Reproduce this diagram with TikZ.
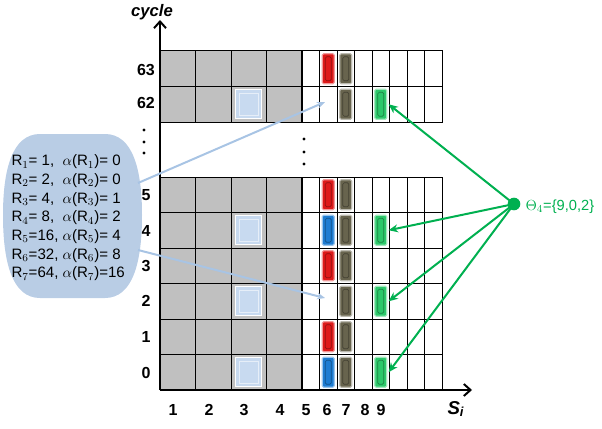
\documentclass[tikz,border=0pt]{standalone}
\usepackage{fontspec}
\setmainfont{Liberation Sans}
\usetikzlibrary{arrows.meta}

\definecolor{cellgray}{RGB}{192,192,192}
\definecolor{blobblue}{RGB}{185,205,229}
\definecolor{callblue}{RGB}{168,196,228}
\definecolor{slotblue}{RGB}{200,218,240}
\definecolor{barred}{RGB}{222,26,26}
\definecolor{barblue}{RGB}{30,124,210}
\definecolor{barbrown}{RGB}{104,100,78}
\definecolor{bargreen}{RGB}{44,200,106}
\definecolor{thetagreen}{RGB}{0,176,80}

\tikzset{every picture/.style={line width=0.75pt}}
\tikzset{
  bar/.style={rectangle, inner sep=0pt, minimum width=9pt, minimum height=22.5pt,
    fill=#1, draw=#1!45!white, line width=0.8pt, rounded corners=1pt,
    path picture={\draw[#1!65!black, line width=0.5pt]
      ([shift={(2.3pt,2.3pt)}]path picture bounding box.south west) rectangle
      ([shift={(-2.3pt,-2.3pt)}]path picture bounding box.north east);}},
  slot/.style={rectangle, inner sep=0pt, minimum width=19.5pt, minimum height=21.75pt,
    fill=slotblue, draw=white, line width=1pt,
    path picture={\draw[white!55!slotblue, line width=0.8pt]
      ([shift={(2.6pt,2.6pt)}]path picture bounding box.south west) rectangle
      ([shift={(-2.6pt,-2.6pt)}]path picture bounding box.north east);}},
  axnum/.style={inner sep=0pt, font=\fontsize{12}{12}\selectfont\bfseries},
  vdot/.style={circle, fill=black, inner sep=0pt, minimum size=2.6pt},
  axis/.style={line width=1.5pt, -{Straight Barb[length=5pt, width=9pt]}},
  garrow/.style={thetagreen, line width=1.5pt, -{Stealth[length=7pt, width=6pt]}},
  carrow/.style={callblue, line width=1.5pt, -{Stealth[length=6pt, width=5pt]}}
}

\begin{document}
\begin{tikzpicture}[x=0.75pt,y=0.75pt,yscale=-1,xscale=1]
\useasboundingbox (0,0) rectangle (602,428);

% gray part of both blocks
\fill[cellgray] (160,51) rectangle (302,122);
\fill[cellgray] (160,177) rectangle (302,390);

% grid: vertical lines
\foreach \x in {195.5,231,266.5} {
  \draw (\x,51) -- (\x,122);
  \draw (\x,177) -- (\x,390);
}
\foreach \x in {319.5,337,354.5,372,389.5,407,424.5} {
  \draw[line width=0.6pt] (\x,51) -- (\x,122);
  \draw[line width=0.6pt] (\x,177) -- (\x,390);
}
% grid: horizontal lines
\foreach \y in {86.5} \draw (160,\y) -- (442,\y);
\foreach \y in {212.5,248,283.5,319,354.5} \draw (160,\y) -- (442,\y);
% block borders
\draw (160,51) rectangle (442,122);
\draw (160,177) rectangle (442,390);
\draw[line width=1.3pt] (302,51) -- (302,122);
\draw[line width=1.3pt] (302,177) -- (302,390);

% slots in column 3
\foreach \n/\y in {62/104.25, 4/230.25, 2/301.25, 0/372.25}
  \node[slot] (slot\n) at (248.75,\y) {};

% red bars
\foreach \n/\y in {63/68.75, 5/194.75, 3/265.75, 1/336.75}
  \node[bar=barred] (red\n) at (328.25,\y) {};
% blue bars
\foreach \n/\y in {4/230.25, 0/372.25}
  \node[bar=barblue] (blu\n) at (328.25,\y) {};
% brown bars
\foreach \n/\y in {63/68.75, 62/104.25, 5/194.75, 4/230.25, 3/265.75, 2/301.25, 1/336.75, 0/372.25}
  \node[bar=barbrown] (brn\n) at (345.75,\y) {};
% green bars
\foreach \n/\y in {62/104.25, 4/230.25, 2/301.25, 0/372.25}
  \node[bar=bargreen] (grn\n) at (380.75,\y) {};

% axes
\coordinate (orig) at (160,390);
\coordinate (ytop) at (160,20);
\coordinate (xend) at (472,390);
\draw[axis] (orig) -- (ytop);
\draw[axis] (orig) -- (xend);

% Text Node
\node[inner sep=0pt, font=\fontsize{12.5}{12.5}\selectfont\bfseries\itshape] (ylab) at (152,12) {cycle};
% Text Node
\node[inner sep=0pt, anchor=base west, font=\fontsize{14}{14}\selectfont\bfseries\itshape] (xlab) at (447,414) {S\textsubscript{i}};

% row labels
\foreach \t/\y in {63/70, 62/103, 5/195, 4/231, 3/266, 2/301, 1/337, 0/373}
  \node[axnum] (row\t) at (146,\y) {\t};
% column labels
\foreach \t/\x in {1/173, 2/209, 3/244, 4/280, 5/306, 6/327, 7/346, 8/365, 9/381}
  \node[axnum] (col\t) at (\x,410) {\t};

% vertical dots
\foreach \i/\y in {1/130, 2/142, 3/153}
  \node[vdot] (ldot\i) at (144,\y) {};
\foreach \i/\y in {1/139, 2/152, 3/164}
  \node[vdot] (mdot\i) at (304,\y) {};

% blob with the R values
\fill[blobblue] (40,134) -- (105,134) .. controls (133,134) and (142,170) .. (142,215)
  .. controls (142,262) and (133,298) .. (105,298) -- (40,298)
  .. controls (12,298) and (3,262) .. (3,215) .. controls (3,170) and (12,134) .. (40,134);
\node[anchor=west, inner sep=0pt, align=left, font=\fontsize{11.3}{14}\selectfont] (rlist) at (11,218) {%
  R$_1$= 1,\ \ $\alpha$(R$_1$)= 0\\
  R$_2$= 2,\ \ $\alpha$(R$_2$)= 0\\
  R$_3$= 4,\ \ $\alpha$(R$_3$)= 1\\
  R$_4$= 8,\ \ $\alpha$(R$_4$)= 2\\
  R$_5$=16, $\alpha$(R$_5$)= 4\\
  R$_6$=32, $\alpha$(R$_6$)= 8\\
  R$_7$=64, $\alpha$(R$_7$)=16};

% callouts to the empty cells
\coordinate (cfrom1) at (138,183);
\coordinate (cfrom2) at (138,250);
\coordinate (cto62) at (325,102);
\coordinate (cto2) at (325,298);
\draw[carrow] (cfrom1) -- (cto62);
\draw[carrow] (cfrom2) -- (cto2);

% theta point and its arrows
\node[circle, fill=thetagreen, inner sep=0pt, minimum size=9.5pt] (theta) at (514,204) {};
\node[anchor=west, inner sep=0pt, text=thetagreen, font=\fontsize{11}{11}\selectfont] (thlab) at (525,207) {$\Theta_4$=\{9,0,2\}};
\foreach \n in {62,4,2,0}
  \draw[garrow] (theta.center) -- ([xshift=1pt]grn\n.east);

\end{tikzpicture}
\end{document}
